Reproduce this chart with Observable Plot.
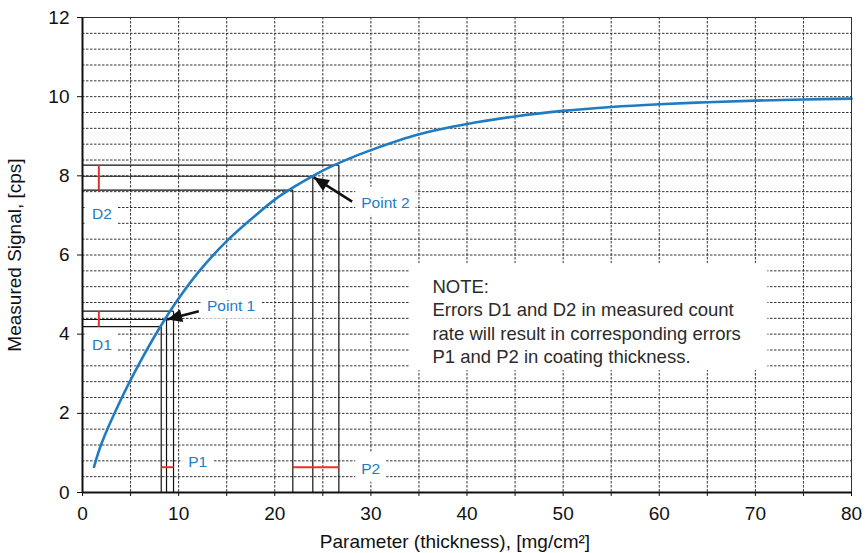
<!DOCTYPE html>
<html>
<head>
<meta charset="utf-8">
<script src="https://cdn.jsdelivr.net/npm/d3@7"></script>
<script src="https://cdn.jsdelivr.net/npm/@observablehq/plot@0.6"></script>
<style>
  html, body { margin: 0; padding: 0; background: #fff; }
  #chart svg { display: block; }
</style>
</head>
<body>
<div id="chart"></div>
<script>
// Curve values
const curveX = [1.2, 2, 4, 6, 8, 10, 12, 15, 18, 20, 22, 24, 26, 28, 30, 35, 40, 45, 50, 55, 60, 65, 70, 75, 80];
const curveY = [0.65, 1.25, 2.35, 3.3, 4.15, 4.9, 5.55, 6.35, 7.0, 7.4, 7.72, 8.0, 8.25, 8.46, 8.65, 9.05, 9.31, 9.5, 9.64, 9.74, 9.81, 9.86, 9.9, 9.93, 9.95];

// Construction lines: signal levels (D) and corresponding thickness (P)
const d1Levels = [4.19, 4.37, 4.58];
const p1Values = [8.19, 8.74, 9.47];
const d2Levels = [7.64, 7.99, 8.27];
const p2Values = [21.88, 23.96, 26.67];

// Error marker positions
const dMarkX = 1.7;
const pMarkY = 0.64;

// Arrows [x, y]
const arrowFrom = [[12.1, 4.58], [28.05, 7.35]];
const arrowTo = [[8.8, 4.37], [24.06, 7.96]];

// Labels
const labelText = ["Point 1", "Point 2", "D1", "D2", "P1", "P2"];
const labelX = [12.95, 29.0, 1.0, 1.0, 11.0, 29.0];
const labelY = [4.72, 7.32, 3.73, 7.04, 0.77, 0.6];

const noteText = "NOTE:\nErrors D1 and D2 in measured count\nrate will result in corresponding errors\nP1 and P2 in coating thickness.";
const noteBox = {x1: 34.1, x2: 71.3, y1: 3.08, y2: 5.78};

// Axis ticks
const xTicks = [0, 5, 10, 15, 20, 25, 30, 35, 40, 45, 50, 55, 60, 65, 70, 75, 80];
const yTicks = [0, 2, 4, 6, 8, 10, 12];
const xGrid = [5, 10, 15, 20, 25, 30, 35, 40, 45, 50, 55, 60, 65, 70, 75];
const yGrid = d3.range(1, 30).map(i => +(i * 0.4).toFixed(1));

const xLabel = "Parameter (thickness), [mg/cm²]";
const yLabel = "Measured Signal, [cps]";

const curve = curveX.map((x, i) => ({x, y: curveY[i]}));
const idx = [0, 1, 2];
const hLines = [
  ...idx.map(i => ({x1: 0, x2: p1Values[i], y: d1Levels[i]})),
  ...idx.map(i => ({x1: 0, x2: p2Values[i], y: d2Levels[i]}))
];
const vLines = [
  ...idx.map(i => ({x: p1Values[i], y1: 0, y2: d1Levels[i]})),
  ...idx.map(i => ({x: p2Values[i], y1: 0, y2: d2Levels[i]}))
];
const redV = [
  {x: dMarkX, y1: d1Levels[0], y2: d1Levels[2]},
  {x: dMarkX, y1: d2Levels[0], y2: d2Levels[2]}
];
const redH = [
  {y: pMarkY, x1: p1Values[0], x2: p1Values[2]},
  {y: pMarkY, x1: p2Values[0], x2: p2Values[2]}
];
const arrows = arrowFrom.map((f, i) => ({x1: f[0], y1: f[1], x2: arrowTo[i][0], y2: arrowTo[i][1]}));
const labels = labelText.map((t, i) => ({t, x: labelX[i], y: labelY[i]}));

const blue = "#1f7cc2";
const red = "#e8322b";

function filledHead(index, scales, values, dimensions, context, next) {
  const g = next(index, scales, values, dimensions, context);
  const {x1: X1, y1: Y1, x2: X2, y2: Y2} = values;
  const sel = d3.select(g);
  for (const i of index) {
    const a = Math.atan2(Y2[i] - Y1[i], X2[i] - X1[i]);
    const L = 15, W = 6.5;
    const bx = X2[i] - L * Math.cos(a), by = Y2[i] - L * Math.sin(a);
    const px = -Math.sin(a) * W, py = Math.cos(a) * W;
    sel.append("path")
      .attr("d", `M${X2[i]},${Y2[i]}L${bx + px},${by + py}L${bx - px},${by - py}Z`)
      .attr("fill", "#111").attr("stroke", "none");
  }
  return g;
}

const chart = Plot.plot({
  width: 866,
  height: 553,
  marginLeft: 82,
  marginRight: 15,
  marginTop: 17,
  marginBottom: 61,
  style: {fontFamily: "'Liberation Sans', Arial, Helvetica, sans-serif", background: "#fff"},
  x: {domain: [0, 80]},
  y: {domain: [0, 12]},
  marks: [
    Plot.ruleY(yGrid, {stroke: "#333", strokeWidth: 1, strokeDasharray: "2.5,1.5"}),
    Plot.ruleX(xGrid, {stroke: "#333", strokeWidth: 1, strokeDasharray: "2.5,1.5"}),
    Plot.rect([noteBox], {x1: "x1", x2: "x2", y1: "y1", y2: "y2", fill: "#fff"}),
    Plot.text([noteText], {x: 36.4, y: 5.47, text: d => d, textAnchor: "start", lineAnchor: "top", fontSize: 18.5, lineHeight: 1.27, fill: "#2b2b2b"}),
    Plot.link(hLines, {x1: "x1", x2: "x2", y1: "y", y2: "y", stroke: "#111", strokeWidth: 1.2}),
    Plot.link(vLines, {x1: "x", x2: "x", y1: "y1", y2: "y2", stroke: "#111", strokeWidth: 1.2}),
    Plot.link(redV, {x1: "x", x2: "x", y1: "y1", y2: "y2", stroke: red, strokeWidth: 2}),
    Plot.link(redH, {x1: "x1", x2: "x2", y1: "y", y2: "y", stroke: red, strokeWidth: 2}),
    Plot.line(curve, {x: "x", y: "y", stroke: blue, strokeWidth: 2.6, curve: "catmull-rom"}),
    Plot.link(arrows, {x1: "x1", y1: "y1", x2: "x2", y2: "y2", stroke: "#111", strokeWidth: 2.6, render: filledHead}),
    Plot.text(labels, {x: "x", y: "y", text: "t", textAnchor: "start", fill: blue, fontSize: 15.5, className: "ptlabels"}),
    Plot.frame({stroke: "#333", strokeWidth: 1}),
    Plot.ruleX([0], {stroke: "#111", strokeWidth: 2}),
    Plot.ruleY([0], {stroke: "#111", strokeWidth: 2}),
    Plot.axisY({ticks: yTicks, tickSize: 5, fontSize: 19, tickPadding: 8, label: null, stroke: "#111", fill: "#111"}),
    Plot.axisX({ticks: xTicks, tickSize: 4, fontSize: 19, tickPadding: 10, label: null, tickFormat: d => d % 10 === 0 ? d : "", stroke: "#111", fill: "#111"}),
    Plot.text([xLabel], {frameAnchor: "bottom", dy: 49, dx: -12, fontSize: 19, lineAnchor: "middle", textAnchor: "middle", fill: "#111"}),
    Plot.text([yLabel], {frameAnchor: "left", dx: -68, rotate: -90, fontSize: 19, lineAnchor: "middle", textAnchor: "middle", fill: "#111"})
  ]
});
document.getElementById("chart").appendChild(chart);

// White knock-out boxes behind the blue annotation labels
const lg = chart.querySelector("g.ptlabels") || chart.querySelector("[class*='ptlabels']");
if (lg) {
  const padX = 6, padTop = 7, padBottom = 5;
  lg.querySelectorAll("text").forEach(t => {
    const b = t.getBBox();
    const r = document.createElementNS("http://www.w3.org/2000/svg", "rect");
    r.setAttribute("x", b.x - padX);
    r.setAttribute("y", b.y - padTop);
    r.setAttribute("width", b.width + 2 * padX);
    r.setAttribute("height", b.height + padTop + padBottom);
    r.setAttribute("fill", "#fff");
    const tr = t.getAttribute("transform");
    if (tr) r.setAttribute("transform", tr);
    t.parentNode.insertBefore(r, t);
  });
}
</script>
</body>
</html>
